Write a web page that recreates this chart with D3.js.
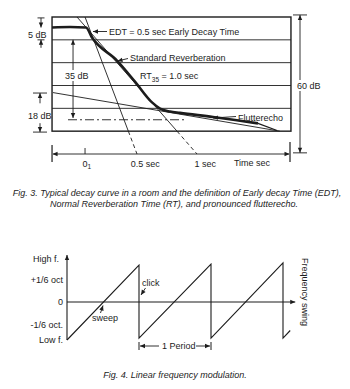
<!DOCTYPE html>
<html><head><meta charset="utf-8">
<script src="https://cdn.jsdelivr.net/npm/d3@7"></script>
<style>
body{margin:0;background:#fff}
text{font-family:"Liberation Sans",Arial,sans-serif;fill:#1c1c1c;font-size:9px}
.cap{font-style:italic;font-size:9px}
</style>
</head><body><svg id="c" width="350" height="389"></svg>
<script>
// ---------- Fig. 3 data (time in s, level in dB below start) ----------
const decayT  = [-0.208,-0.058,0.075,0.125,0.333,0.483,0.625,0.692,0.775,0.858,1.133,1.317,1.508,1.667];
const decayDb = [4.6,4.4,4.6,9.0,19.1,28.3,37.4,40.1,41.4,42.0,43.8,45.1,46.6,49.7];
const gridDb = [10,20,30,40];
const timeTicks = [0.067,0.5,1];
const timeTickNum = ["0","0.5","1"];
const timeTickSuffix = ["1"," sec"," sec"];
const edtT = [0.067,0.5], edtDb = [0,60];
const rtT = [0,1], rtDb = [0,60];
const flutterT = [-0.2,1.69], flutterDb = [33.1,50];
// ---------- Fig. 4 data (time in periods, frequency swing) ----------
const sawT = [0,1,1,2,2,3,3,3.1];
const sawF = [-1,0.97,-0.95,1.0,-0.95,1.03,-0.95,-0.75];
const fLabels = ["High f.","+1/6 oct","0","-1/6 oct.","Low f."];
const fLabelVals = [1.15,0.59,0,-0.59,-1.0];

const svg = d3.select("#c");
const ink = "#1c1c1c";
svg.append("rect").attr("width",350).attr("height",389).attr("fill","#fff");

function arrowHead(g,x1,y1,x2,y2,len=5,w=2.2){
  const a=Math.atan2(y2-y1,x2-x1);
  const bx=x2-len*Math.cos(a), by=y2-len*Math.sin(a);
  const px=-Math.sin(a)*w, py=Math.cos(a)*w;
  g.append("path").attr("d",`M${x2},${y2}L${bx+px},${by+py}L${bx-px},${by-py}Z`).attr("fill",ink);
}
function line(g,x1,y1,x2,y2,sw=0.9,dash=null){
  const l=g.append("line").attr("x1",x1).attr("y1",y1).attr("x2",x2).attr("y2",y2)
    .attr("stroke",ink).attr("stroke-width",sw);
  if(dash) l.attr("stroke-dasharray",dash);
  return l;
}
function arrow(g,x1,y1,x2,y2,sw=0.9){ line(g,x1,y1,x2,y2,sw); arrowHead(g,x1,y1,x2,y2); }

// ===================== Fig. 3 =====================
const x3 = d3.scaleLinear().domain([0,1]).range([77,197]);
const y3 = d3.scaleLinear().domain([0,60]).range([17,154]);
const tMin=-0.208, tMax=1.783, boxDb=50;
const g3 = svg.append("g");

gridDb.forEach(d=>line(g3,x3(tMin),y3(d),x3(tMax),y3(d),0.9));

function splitLine(tA,dA,tB,dB){
  const tc = tA+(tB-tA)*(boxDb-dA)/(dB-dA);
  line(g3,x3(tA),y3(dA),x3(tc),y3(boxDb),0.9);
  line(g3,x3(tc),y3(boxDb),x3(tB),y3(dB),0.9,"4,3");
}
splitLine(edtT[0],edtDb[0],edtT[1],edtDb[1]);
splitLine(rtT[0],rtDb[0],rtT[1],rtDb[1]);
line(g3,x3(flutterT[0]),y3(flutterDb[0]),x3(flutterT[1]),y3(flutterDb[1]),0.9);

line(g3,x3(-0.075),y3(45),x3(0.9),y3(45),0.9,"9,3,2,3");

g3.append("rect").attr("x",x3(tMin)).attr("y",y3(0)).attr("width",x3(tMax)-x3(tMin))
  .attr("height",y3(boxDb)-y3(0)).attr("fill","none").attr("stroke",ink).attr("stroke-width",1.4);

const decay = decayT.map((t,i)=>[t,decayDb[i]]);
g3.append("path").datum(decay.slice(0,decay.length-1))
  .attr("d",d3.line().x(d=>x3(d[0])).y(d=>y3(d[1])).curve(d3.curveMonotoneX))
  .attr("fill","none").attr("stroke",ink).attr("stroke-width",2.6).attr("stroke-linejoin","round");
g3.append("path").datum(decay.slice(decay.length-2))
  .attr("d",d3.line().x(d=>x3(d[0])).y(d=>y3(d[1])))
  .attr("fill","none").attr("stroke",ink).attr("stroke-width",1.2);

const ty = y3(60);
line(g3,x3(tMin)+1,ty,x3(1.775)-1,ty,0.9);
arrowHead(g3,x3(0.2),ty,x3(tMin)+0.5,ty);
arrowHead(g3,x3(1.5),ty,x3(1.775)-0.5,ty);
line(g3,x3(tMin),ty-9,x3(tMin),ty+8,1.2);
line(g3,x3(1.775),ty-12,x3(1.775),ty+8,1.2);
line(g3,x3(timeTicks[0]),ty-6,x3(timeTicks[0]),ty,0.9);

timeTicks.forEach((t,i)=>{
  const tx=g3.append("text").attr("y",ty+12.5);
  const n=tx.append("tspan").text(timeTickNum[i]);
  if(i===0) tx.append("tspan").attr("dy",2.5).attr("font-size","6.5px").text(timeTickSuffix[i]);
  else tx.append("tspan").text(timeTickSuffix[i]);
  const w=n.node().getComputedTextLength();
  tx.attr("x",x3(t)-w/2);
});
g3.append("text").attr("x",x3(1.308)).attr("y",ty+12).text("Time sec");

const dx5=41;
line(g3,dx5-3.5,y3(0.4),dx5+3.5,y3(0.4),0.9);
arrow(g3,dx5,y3(0.4),dx5,y3(4.6));
line(g3,dx5-3.5,y3(10),dx5+3.5,y3(10),0.9);
arrow(g3,dx5,y3(13.5),dx5,y3(10));
g3.append("text").attr("x",28).attr("y",38).text("5 dB");

const dx35=x3(-0.033);
arrow(g3,dx35,y3(30),dx35,y3(10));
arrow(g3,dx35,y3(30),dx35,y3(44.2));
g3.append("rect").attr("x",63).attr("y",70).attr("width",27).attr("height",11).attr("fill","#fff");
g3.append("text").attr("x",65).attr("y",79).text("35 dB");

const dx18=40;
line(g3,dx18-7,y3(33.3),dx18+7,y3(33.3),0.9);
arrow(g3,dx18,y3(37.8),dx18,y3(33.3));
line(g3,dx18-7,y3(50.4),dx18+7,y3(50.4),0.9);
arrow(g3,dx18,y3(46.5),dx18,y3(50.4));
g3.append("text").attr("x",28).attr("y",118.5).text("18 dB");

const dx60=300;
line(g3,dx60-7,y3(-0.9),dx60+7,y3(-0.9),0.9);
line(g3,dx60-7,y3(59.5),dx60+7,y3(59.5),0.9);
arrow(g3,dx60,y3(30),dx60,y3(-0.9));
arrow(g3,dx60,y3(30),dx60,y3(59.5));
g3.append("rect").attr("x",296).attr("y",80).attr("width",24).attr("height",11).attr("fill","#fff");
g3.append("text").attr("x",297).attr("y",89).text("60 dB");

arrow(g3,107,31.5,93,31.5);
g3.append("text").attr("x",109).attr("y",35).text("EDT = 0.5 sec Early Decay Time");
arrow(g3,128,58.5,117.5,61);
g3.append("text").attr("x",130).attr("y",60.5).text("Standard Reverberation");
const rt=g3.append("text").attr("x",140).attr("y",79);
rt.append("tspan").text("RT");
rt.append("tspan").attr("dy",2.5).attr("font-size","6.5px").text("35");
rt.append("tspan").attr("dy",-2.5).text(" = 1.0 sec");
arrow(g3,236,116.5,213,118);
g3.append("text").attr("x",238).attr("y",120.5).text("Flutterecho");

svg.append("text").attr("class","cap").attr("x",177).attr("y",196).attr("text-anchor","middle")
  .text("Fig. 3.  Typical decay curve in a room and the definition of Early decay Time (EDT),");
svg.append("text").attr("class","cap").attr("x",174).attr("y",206.5).attr("text-anchor","middle")
  .text("Normal Reverberation Time (RT), and pronounced flutterecho.");

// ===================== Fig. 4 =====================
const x4 = d3.scaleLinear().domain([0,1]).range([67,139]);
const y4 = d3.scaleLinear().domain([-1,1]).range([340,264]);
const g4 = svg.append("g");

arrow(g4,x4(0),y4(-1),x4(0),y4(1.24),1.1);
arrow(g4,x4(0),y4(0),x4(3.17),y4(0),1.1);

g4.append("path").datum(sawT.map((t,i)=>[t,sawF[i]]))
  .attr("d",d3.line().x(d=>x4(d[0])).y(d=>y4(d[1])))
  .attr("fill","none").attr("stroke",ink).attr("stroke-width",1.1);

fLabels.forEach((s,i)=>{
  g4.append("text").attr("x",i===0?59:63).attr("y",y4(fLabelVals[i])+3.2)
    .attr("text-anchor","end").text(s);
});

g4.append("text").attr("x",142).attr("y",286).text("click");
arrow(g4,145.5,288,141,295);
g4.append("text").attr("x",92).attr("y",321).text("sweep");
arrow(g4,100.5,313,103,305.5);

const py=346;
line(g4,x4(1),py-4,x4(1),py+4,1);
arrow(g4,x4(1)+20,py,x4(1)+1,py);
g4.append("text").attr("x",162).attr("y",py+3.2).text("1 Period");
line(g4,x4(2),py-4,x4(2),py+4,1);
arrow(g4,x4(2)-15,py,x4(2)-1,py);

g4.append("text").attr("transform",`translate(302,292) rotate(90)`).attr("text-anchor","middle")
  .attr("font-size","8.5px").text("Frequency swing");

svg.append("text").attr("class","cap").attr("x",175).attr("y",378).attr("text-anchor","middle")
  .text("Fig. 4.  Linear frequency modulation.");
</script></body></html>
